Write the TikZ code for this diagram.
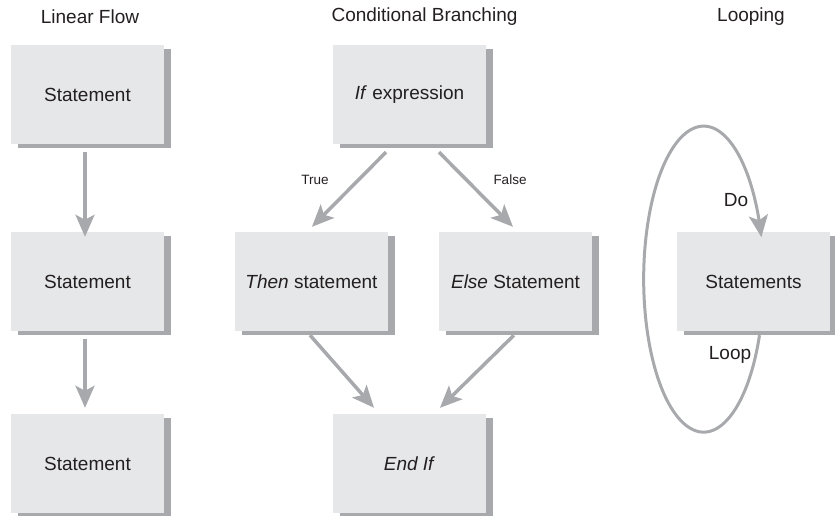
\documentclass[tikz,border=0pt]{standalone}
\usepackage{fontspec}
\setmainfont{Liberation Sans}
\usepackage{xcolor}
\usetikzlibrary{calc, positioning}
\usetikzlibrary{arrows.meta, bending}
\usetikzlibrary{shadows}

\definecolor{boxfill}{HTML}{E6E7E8}
\definecolor{shade}{HTML}{A7A9AC}
\definecolor{ink}{HTML}{231F20}

\begin{document}
\begin{tikzpicture}[x=1pt,y=-1pt,
  stmt/.style={fill=boxfill, text=ink, minimum width=153pt, minimum height=99pt, inner sep=0pt,
    font=\fontsize{19}{23}\selectfont,
    drop shadow={shadow xshift=7pt, shadow yshift=-4pt, fill=shade, opacity=1}},
  title/.style={text=ink, font=\fontsize{19}{23}\selectfont},
  lbl/.style={text=ink, font=\fontsize{13.5}{16}\selectfont},
  flow/.style={draw=shade, line width=3.5pt, -{Stealth[length=22pt, width=19pt, inset=5pt]}}]

\useasboundingbox (0,0) rectangle (835,516);

% column titles
\node[title] (tLin) at (90,17) {Linear Flow};
\node[title] (tCond) at (424.5,17) {Conditional Branching};
\node[title] (tLoop) at (751,17) {Looping};

% boxes
\node[stmt] (linA) at (87.5,94.5) {Statement};
\node[stmt] (linB) at (87.5,281.5) {Statement};
\node[stmt] (linC) at (87.5,463.5) {Statement};
\node[stmt] (ifx) at (409.5,94.5) {\textit{If} expression};
\node[stmt] (thenx) at (311.5,281.5) {\textit{Then} statement};
\node[stmt] (elsex) at (515.5,281.5) {\textit{Else} Statement};
\node[stmt] (endif) at (409.5,463.5) {\textit{End If}};
\node[stmt] (loopx) at (753.5,281.5) {Statements};

% linear flow
\draw[flow, shorten <=8pt, shorten >=-5pt] ($(linA.south)+(-2.5,0)$) -- ($(linB.north)+(-2.5,0)$);
\draw[flow, shorten <=8pt, shorten >=6pt] ($(linB.south)+(-2.5,0)$) -- ($(linC.north)+(-2.5,0)$);

% branching
\draw[flow, shorten <=11.2pt, shorten >=7pt] ($(ifx.south)+(-15.6,0)$) -- ($(thenx.north)+(-4.5,0)$);
\draw[flow, shorten <=11.2pt, shorten >=7pt] ($(ifx.south)+(21.6,0)$) -- ($(elsex.north)+(2.4,0)$);
\draw[flow, shorten <=5.3pt, shorten >=8pt] ($(thenx.south)+(-5,0)$) -- ($(endif.north)+(-30.2,0)$);
\draw[flow, shorten <=5.7pt, shorten >=8.5pt] ($(elsex.south)+(2.5,0)$) -- ($(endif.north)+(24.4,0)$);

\node[lbl] (tTrue) at (315,180) {True};
\node[lbl] (tFalse) at (510,180) {False};

% looping
\draw[flow, line width=3pt] ($(loopx.south)+(6,4)$)
  arc[start angle=-21.5, end angle=-344.1, x radius=60pt, y radius=153pt];

\node[title] (tDo) at (736,200) {Do};
\node[title] (tLp) at (730,355) {Loop};
\end{tikzpicture}
\end{document}
